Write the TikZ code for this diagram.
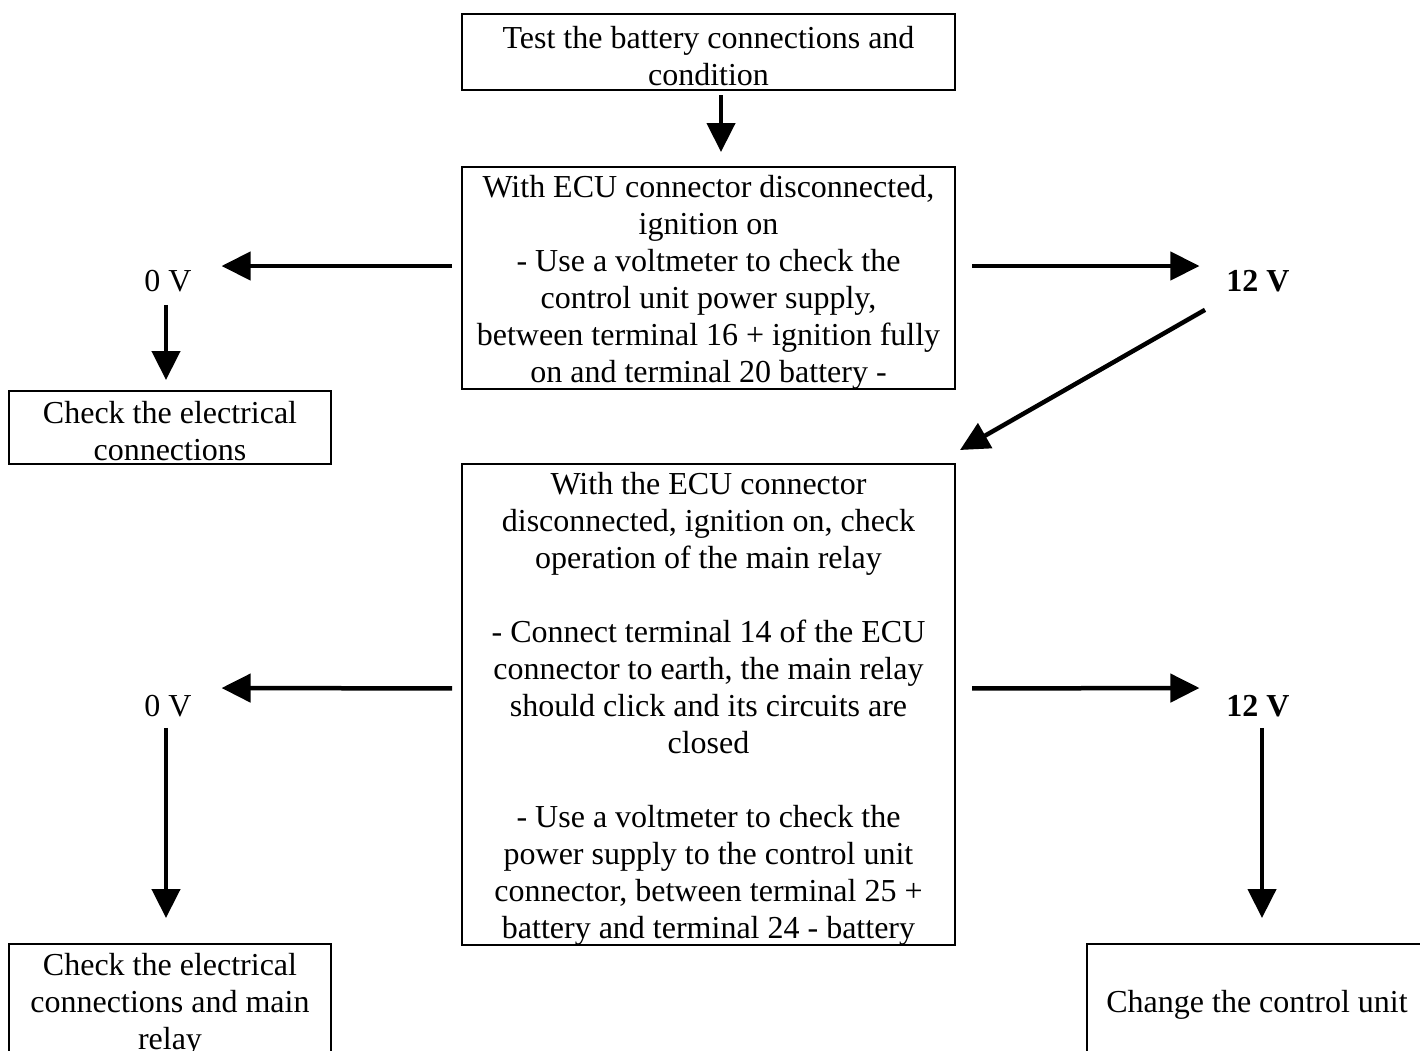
\documentclass[tikz,border=0pt]{standalone}
\usepackage{fontspec}
\setmainfont{Liberation Serif}
\usetikzlibrary{arrows.meta}
\newcommand{\topst}{\rule{0pt}{30pt}}
\begin{document}
\begin{tikzpicture}[x=1pt,y=-1pt,
  box/.style={draw, line width=2pt, anchor=north west, inner sep=0pt, outer sep=0pt,
    align=center, font=\fontsize{32}{37}\selectfont},
  lbl/.style={inner sep=0pt, outer sep=0pt, font=\fontsize{32}{37}\selectfont},
  arr/.style={line width=4.5pt, -{Triangle[length=29pt,width=28pt]}}]
\useasboundingbox (0,0) rectangle (1420,1050);
\clip (0,0) rectangle (1420,1050);
\fill[white] (0,0) rectangle (1420,1050);

\node[box, minimum width=493pt, minimum height=76pt] (b1) at (462,14)
  {\topst Test the battery connections and\\condition};
\node[box, minimum width=493pt, minimum height=222pt] (b2) at (462,167)
  {\topst With ECU connector disconnected,\\ignition on\\- Use a voltmeter to check the\\control unit power supply,\\between terminal 16 + ignition fully\\on and terminal 20 battery -};
\node[box, minimum width=493pt, minimum height=480pt] (b3) at (462,464)
  {\topst With the ECU connector\\disconnected, ignition on, check\\operation of the main relay\\[37pt]- Connect terminal 14 of the ECU\\connector to earth, the main relay\\should click and its circuits are\\closed\\[37pt]- Use a voltmeter to check the\\power supply to the control unit\\connector, between terminal 25 +\\battery and terminal 24 - battery};
\node[box, minimum width=322pt, minimum height=73pt] (c1) at (9,391)
  {\topst Check the electrical\\connections};
\node[box, minimum width=322pt, minimum height=114pt] (c2) at (9,944)
  {\topst Check the electrical\\connections and main\\relay};
\node[box, minimum width=340pt, minimum height=114pt] (c3) at (1087,944)
  {\topst Change the control unit};

\node[lbl] (zA) at (168,281) {0 V};
\node[lbl] (tA) at (1258,281) {\textbf{12 V}};
\node[lbl] (zB) at (168,706) {0 V};
\node[lbl] (tB) at (1258,706) {\textbf{12 V}};

\draw[arr] ([shift={(12.5,5)}]b1.south) -- ([shift={(12.5,-15)}]b2.north);
\draw[arr] ([shift={(-10,-12)}]b2.west) -- ([shift={(30,-15)}]zA.east);
\draw[arr] ([shift={(17,-12)}]b2.east) -- ([shift={(-27,-15)}]tA.west);
\draw[arr] ([shift={(-2,13)}]zA.south) -- ([shift={(-2,-11)}]zA.south |- c1.north);
\draw[arr] ([shift={(-53,18)}]tA.south) -- ([shift={(5,-14)}]b3.north east);
\draw[arr] ([shift={(-10,-16)}]b3.west) -- ([shift={(30,-18)}]zB.east);
\draw[arr] ([shift={(17,-16)}]b3.east) -- ([shift={(-27,-18)}]tB.west);
\draw[arr] ([shift={(-2,11)}]zB.south) -- ([shift={(-2,-26)}]zB.south |- c2.north);
\draw[arr] ([shift={(4,11)}]tB.south) -- ([shift={(4,-26)}]tB.south |- c3.north);
\end{tikzpicture}
\end{document}
